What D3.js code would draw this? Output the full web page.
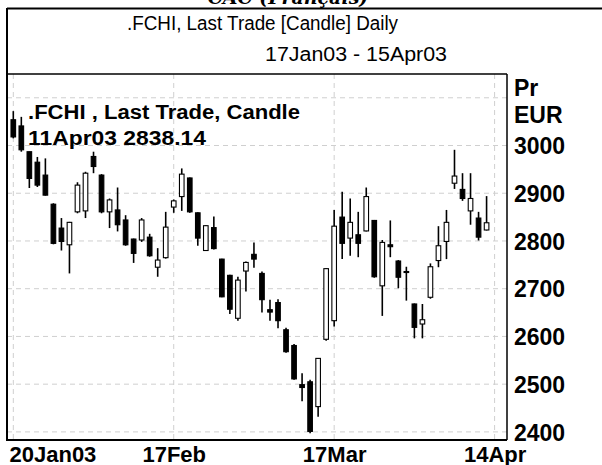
<!DOCTYPE html>
<html>
<head>
<meta charset="utf-8">
<script src="https://cdn.jsdelivr.net/npm/d3@7"></script>
<style>
  html, body { margin: 0; padding: 0; background: #fff; }
  svg { display: block; }
  text { font-family: "Liberation Sans", Arial, sans-serif; fill: #000; }
</style>
</head>
<body>
<svg id="chart" width="602" height="465"></svg>
<script>
// ---------------- data ----------------
const dates = ["20Jan03","21Jan03","22Jan03","23Jan03","24Jan03","27Jan03","28Jan03","29Jan03","30Jan03","31Jan03",
  "03Feb03","04Feb03","05Feb03","06Feb03","07Feb03","10Feb03","11Feb03","12Feb03","13Feb03","14Feb03",
  "17Feb03","18Feb03","19Feb03","20Feb03","21Feb03","24Feb03","25Feb03","26Feb03","27Feb03","28Feb03",
  "03Mar03","04Mar03","05Mar03","06Mar03","07Mar03","10Mar03","11Mar03","12Mar03","13Mar03","14Mar03",
  "17Mar03","18Mar03","19Mar03","20Mar03","21Mar03","24Mar03","25Mar03","26Mar03","27Mar03","28Mar03",
  "31Mar03","01Apr03","02Apr03","03Apr03","04Apr03","07Apr03","08Apr03","09Apr03","10Apr03","11Apr03"];
const openV = [3054,3041,2987,2965,2938,2877,2827,2792,2861,2863,
  2977,2938,2861,2865,2844,2804,2802,2808,2745,2765,
  2871,2893,2932,2859,2780,2828,2762,2728,2638,2737,
  2772,2732,2656,2671,2614,2581,2499,2505,2453,2594,
  2633,2850,2806,2813,2821,2843,2706,2792,2758,2736,
  2668,2626,2682,2759,2799,2921,2908,2863,2848,2823];
const highV = [3072,3060,2987,2976,2973,2879,2848,2840,2923,2945,
  2987,2940,2889,2912,2854,2805,2848,2815,2785,2861,
  2887,2952,2933,2860,2833,2851,2763,2729,2725,2757,
  2797,2736,2677,2678,2618,2584,2523,2509,2555,2743,
  2865,2903,2889,2861,2912,2844,2802,2843,2760,2746,
  2669,2668,2753,2831,2865,2991,2942,2942,2861,2894];
const lowV = [3015,2987,2911,2913,2895,2793,2780,2732,2858,2848,
  2942,2858,2827,2820,2790,2754,2798,2767,2725,2763,
  2859,2863,2859,2790,2779,2782,2682,2647,2633,2694,
  2744,2650,2633,2617,2566,2509,2464,2397,2432,2591,
  2621,2762,2769,2766,2820,2723,2643,2766,2701,2675,
  2596,2596,2679,2745,2762,2909,2884,2834,2801,2822];
const closeV = [3018,2991,2931,2917,2896,2795,2799,2839,2917,2942,
  2956,2861,2886,2834,2792,2774,2844,2769,2760,2829,
  2884,2940,2861,2806,2832,2784,2683,2657,2718,2755,
  2762,2677,2651,2633,2568,2511,2493,2401,2554,2742,
  2831,2795,2839,2795,2893,2725,2797,2788,2724,2734,
  2619,2635,2746,2790,2839,2936,2889,2889,2808,2838.14];

const xTickIndex = [0, 20, 40, 60];
const xTickLabels = ["20Jan03", "17Feb", "17Mar", "14Apr"];
const yTicks = [2400, 2500, 2600, 2700, 2800, 2900, 3000];
const yGrid = [2400, 2500, 2600, 2700, 2800, 2900, 3000, 3100];

const headerText = "CAC (Français)";
const titleLine1 = ".FCHI, Last Trade [Candle] Daily";
const titleLine2 = "17Jan03 - 15Apr03";
const legendLine1 = ".FCHI , Last Trade, Candle";
const legendLine2 = "11Apr03 2838.14";
const unitLines = ["Pr", "EUR"];

// ---------------- layout ----------------
const svg = d3.select("#chart");
const plot = { left: 7, right: 507, top: 74, bottom: 440 };

const x = d3.scaleLinear().domain([0, 60]).range([13.3, 494.6]);
const y = d3.scaleLinear().domain([2400, 3000]).range([431.9, 145.5]);

const candles = dates.map((d, i) => ({ i, d, o: openV[i], h: highV[i], l: lowV[i], c: closeV[i] }));

// header text, cut off at the top edge as in the source
svg.append("text")
  .attr("x", 288).attr("y", 4)
  .attr("text-anchor", "middle")
  .style("font-family", "'DejaVu Serif', serif")
  .style("font-style", "italic").style("font-weight", "bold")
  .style("font-size", "19px")
  .text(headerText);

// gridlines
const grid = svg.append("g");
grid.selectAll("line.h").data(yGrid).join("line")
  .attr("x1", plot.left).attr("x2", plot.right)
  .attr("y1", d => y(d)).attr("y2", d => y(d))
  .attr("stroke", "#cfcfcf").attr("stroke-width", 1)
  .attr("stroke-dasharray", "5,4");
grid.selectAll("line.v").data(xTickIndex).join("line")
  .attr("x1", d => x(d)).attr("x2", d => x(d))
  .attr("y1", plot.top).attr("y2", plot.bottom)
  .attr("stroke", "#cfcfcf").attr("stroke-width", 1)
  .attr("stroke-dasharray", "5,4");

// candles
const cg = svg.append("g");
cg.selectAll("line.wick").data(candles).join("line")
  .attr("x1", d => x(d.i)).attr("x2", d => x(d.i))
  .attr("y1", d => y(d.h)).attr("y2", d => y(d.l))
  .attr("stroke", "#000").attr("stroke-width", 1.6);
cg.selectAll("rect.body").data(candles).join("rect")
  .attr("x", d => x(d.i) - 2.3)
  .attr("width", 4.6)
  .attr("y", d => y(Math.max(d.o, d.c)))
  .attr("height", d => Math.max(1, Math.abs(y(d.o) - y(d.c))))
  .attr("fill", d => d.c >= d.o ? "#fff" : "#000")
  .attr("stroke", "#000").attr("stroke-width", 1.1);

// frame
const frame = svg.append("g").attr("stroke", "#000").attr("fill", "none");
frame.append("line").attr("x1", plot.left).attr("x2", 602).attr("y1", 8.5).attr("y2", 8.5).attr("stroke-width", 2);
frame.append("line").attr("x1", plot.left).attr("x2", plot.left).attr("y1", 8).attr("y2", plot.bottom + 1).attr("stroke-width", 2);
frame.append("line").attr("x1", plot.left).attr("x2", plot.right).attr("y1", plot.top).attr("y2", plot.top).attr("stroke-width", 1.5);
frame.append("line").attr("x1", plot.right).attr("x2", plot.right).attr("y1", plot.top).attr("y2", plot.bottom).attr("stroke-width", 1.5);

// x axis (bottom)
const xAxis = d3.axisBottom(x).tickValues(xTickIndex)
  .tickFormat(d => xTickLabels[xTickIndex.indexOf(d)]).tickSize(0).tickPadding(0);
const xg = svg.append("g").attr("transform", `translate(0,${plot.bottom})`).call(xAxis);
xg.select(".domain").attr("d", `M${plot.left},0H${plot.right}`).attr("stroke", "#000").attr("stroke-width", 2);
xg.selectAll("text")
  .style("font-family", "'Liberation Sans', Arial, sans-serif")
  .style("font-size", "22px").style("font-weight", "bold")
  .attr("dy", null).attr("y", 22)
  .attr("text-anchor", (d, i) => i === 0 ? "start" : "middle")
  .attr("x", (d, i) => i === 0 ? 9 - x(d) : 0);

// y axis (right)
const yAxis = d3.axisRight(y).tickValues(yTicks).tickFormat(d3.format("d")).tickSize(0).tickPadding(0);
const yg = svg.append("g").attr("transform", `translate(${plot.right},0)`).call(yAxis);
yg.select(".domain").remove();
yg.selectAll("text")
  .style("font-family", "'Liberation Sans', Arial, sans-serif")
  .style("font-size", "23px").style("font-weight", "bold")
  .attr("x", 7).attr("dy", "0.36em");
svg.selectAll("text.unit").data(unitLines).join("text")
  .attr("class", "unit")
  .attr("x", 514).attr("y", (d, i) => 96 + i * 27)
  .style("font-size", "23px").style("font-weight", "bold")
  .text(d => d);

// titles
svg.append("text").attr("x", 127).attr("y", 30)
  .attr("textLength", 271).attr("lengthAdjust", "spacingAndGlyphs")
  .style("font-size", "20px").text(titleLine1);
svg.append("text").attr("x", 265).attr("y", 61)
  .attr("textLength", 182).attr("lengthAdjust", "spacingAndGlyphs")
  .style("font-size", "20px").text(titleLine2);

// legend
svg.append("text").attr("x", 28).attr("y", 119)
  .attr("textLength", 272).attr("lengthAdjust", "spacingAndGlyphs")
  .style("font-size", "20px").style("font-weight", "bold").text(legendLine1);
svg.append("text").attr("x", 28).attr("y", 145)
  .attr("textLength", 178).attr("lengthAdjust", "spacingAndGlyphs")
  .style("font-size", "20px").style("font-weight", "bold").text(legendLine2);
</script>
</body>
</html>
